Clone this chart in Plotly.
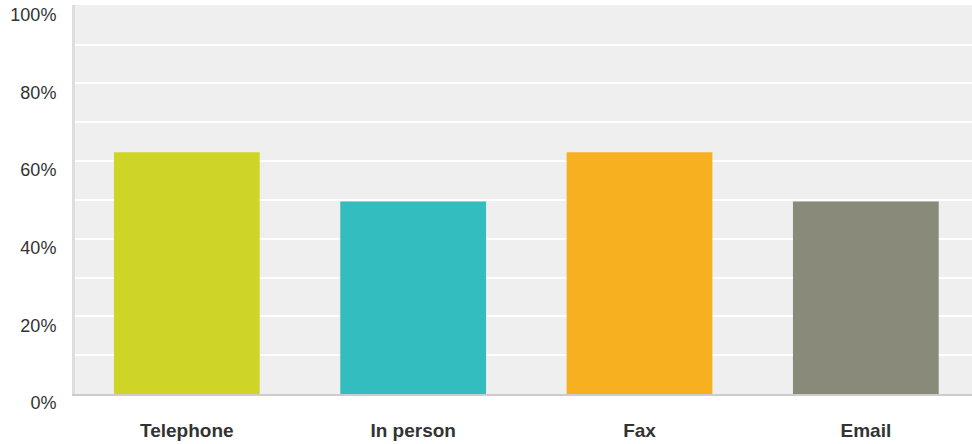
import plotly.graph_objects as go

categories = ["Telephone", "In person", "Fax", "Email"]
values = [62.3, 49.6, 62.3, 49.6]
colors = ["#CFD527", "#33BDBF", "#F7B020", "#8A8A7A"]
tick_vals = [0, 20, 40, 60, 80, 100]
tick_text = ["0%", "20%", "40%", "60%", "80%", "100%"]

fig = go.Figure(go.Bar(
    x=list(range(len(categories))), y=values, marker_color=colors,
    marker_line_width=0, width=0.644, hoverinfo="skip"))

fig.update_layout(
    width=972, height=444,
    margin=dict(l=75, r=0, t=5, b=50),
    paper_bgcolor="white", plot_bgcolor="#EFEFEF",
    showlegend=False,
    font=dict(family="Liberation Sans, Arial, sans-serif", color="#333333"),
)
fig.update_xaxes(
    range=[-0.494, 3.469], tickvals=list(range(len(categories))),
    ticktext=["<b>%s</b>" % c for c in categories],
    tickfont=dict(size=19, color="#333333"), showgrid=False,
    showline=True, linecolor="#CCCCCC", linewidth=2, ticks="", ticklabelstandoff=18,
    zeroline=False)
fig.update_yaxes(
    range=[0, 100.2], tickvals=tick_vals, ticktext=tick_text,
    tickfont=dict(size=18, color="#333333"),
    showgrid=True, gridcolor="#FFFFFF", gridwidth=2,
    minor=dict(showgrid=True, gridcolor="#FFFFFF", gridwidth=2, dtick=10, tick0=0),
    showline=True, linecolor="#DDDDDD", linewidth=3, ticks="",
    ticklabelshift=9, ticklabelstandoff=12, zeroline=False)

fig.write_html("out.html", config={"displayModeBar": False},
               post_script="document.body.style.margin='0';")
